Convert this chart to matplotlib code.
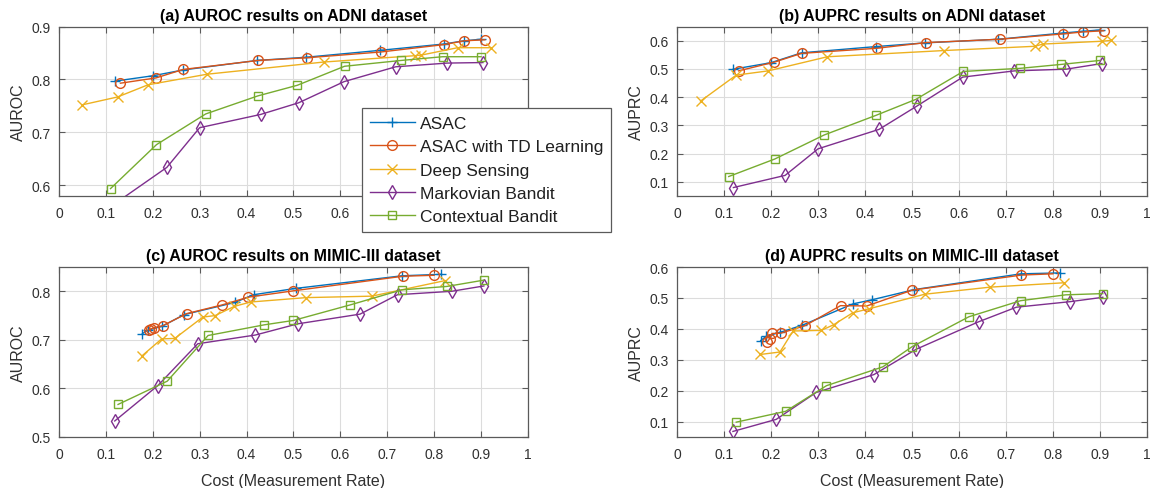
import matplotlib
matplotlib.use('Agg')
import matplotlib.pyplot as plt

plt.rcParams['font.family'] = ['Liberation Sans', 'DejaVu Sans']

methods = ['ASAC', 'ASAC with TD Learning', 'Deep Sensing', 'Markovian Bandit', 'Contextual Bandit']

# ADNI: cost (measurement rate) per method
adni_cost_asac = [0.12, 0.2, 0.265, 0.423, 0.527, 0.684, 0.821, 0.863, 0.9]
adni_cost_td = [0.131, 0.207, 0.265, 0.425, 0.529, 0.687, 0.822, 0.864, 0.908]
adni_cost_ds_roc = [0.049, 0.125, 0.19, 0.316, 0.565, 0.76, 0.772, 0.85, 0.921]
adni_cost_ds_prc = [0.05, 0.126, 0.194, 0.32, 0.568, 0.761, 0.779, 0.905, 0.924]
adni_cost_mb = [0.12, 0.23, 0.3, 0.43, 0.511, 0.608, 0.718, 0.828, 0.904]
adni_cost_cb = [0.11, 0.208, 0.313, 0.424, 0.508, 0.609, 0.73, 0.818, 0.9]

# (a) AUROC on ADNI
adni_auroc_asac = [0.797, 0.807, 0.818, 0.836, 0.842, 0.855, 0.867, 0.873, 0.876]
adni_auroc_td = [0.793, 0.803, 0.819, 0.836, 0.841, 0.852, 0.866, 0.873, 0.875]
adni_auroc_ds = [0.752, 0.767, 0.79, 0.81, 0.833, 0.845, 0.846, 0.86, 0.86]
adni_auroc_mb = [0.566, 0.634, 0.709, 0.734, 0.756, 0.796, 0.824, 0.831, 0.832]
adni_auroc_cb = [0.594, 0.677, 0.735, 0.769, 0.789, 0.825, 0.836, 0.843, 0.843]

# (b) AUPRC on ADNI
adni_auprc_asac = [0.499, 0.522, 0.557, 0.579, 0.592, 0.605, 0.627, 0.633, 0.638]
adni_auprc_td = [0.493, 0.524, 0.555, 0.573, 0.593, 0.605, 0.624, 0.631, 0.635]
adni_auprc_ds = [0.386, 0.478, 0.493, 0.543, 0.565, 0.58, 0.588, 0.598, 0.601]
adni_auprc_mb = [0.08, 0.123, 0.217, 0.286, 0.369, 0.471, 0.493, 0.499, 0.519]
adni_auprc_cb = [0.119, 0.181, 0.266, 0.336, 0.392, 0.491, 0.502, 0.516, 0.53]

# MIMIC-III: cost per method
mimic_cost_asac = [0.178, 0.19, 0.22, 0.267, 0.375, 0.415, 0.505, 0.732, 0.815]
mimic_cost_td = [0.192, 0.197, 0.202, 0.221, 0.272, 0.348, 0.404, 0.5, 0.733, 0.8]
mimic_cost_ds = [0.177, 0.219, 0.247, 0.307, 0.333, 0.374, 0.409, 0.527, 0.667, 0.823]
mimic_cost_mb = [0.119, 0.211, 0.296, 0.419, 0.509, 0.642, 0.722, 0.837, 0.906]
mimic_cost_cb = [0.126, 0.231, 0.318, 0.438, 0.5, 0.621, 0.731, 0.827, 0.906]

# (c) AUROC on MIMIC-III
mimic_auroc_asac = [0.713, 0.72, 0.728, 0.752, 0.777, 0.793, 0.806, 0.832, 0.835]
mimic_auroc_td = [0.721, 0.723, 0.725, 0.729, 0.754, 0.772, 0.788, 0.801, 0.831, 0.833]
mimic_auroc_ds = [0.667, 0.702, 0.703, 0.747, 0.75, 0.769, 0.778, 0.787, 0.79, 0.822]
mimic_auroc_mb = [0.533, 0.606, 0.692, 0.71, 0.733, 0.753, 0.793, 0.8, 0.811]
mimic_auroc_cb = [0.567, 0.615, 0.709, 0.731, 0.74, 0.772, 0.803, 0.81, 0.823]

# (d) AUPRC on MIMIC-III
mimic_auprc_asac = [0.362, 0.376, 0.389, 0.412, 0.481, 0.494, 0.527, 0.578, 0.581]
mimic_auprc_td = [0.357, 0.368, 0.385, 0.386, 0.41, 0.475, 0.474, 0.525, 0.574, 0.578]
mimic_auprc_ds = [0.317, 0.325, 0.393, 0.395, 0.413, 0.452, 0.465, 0.512, 0.535, 0.549]
mimic_auprc_mb = [0.068, 0.107, 0.194, 0.252, 0.334, 0.423, 0.47, 0.488, 0.502]
mimic_auprc_cb = [0.098, 0.133, 0.216, 0.277, 0.342, 0.439, 0.491, 0.51, 0.514]

xtick_vals = [0, 0.1, 0.2, 0.3, 0.4, 0.5, 0.6, 0.7, 0.8, 0.9, 1]
xtick_labels = ['0', '0.1', '0.2', '0.3', '0.4', '0.5', '0.6', '0.7', '0.8', '0.9', '1']

# matlab default colours
colors = ['#0072BD', '#D95319', '#EDB120', '#7E2F8E', '#77AC30']
markers = ['+', 'o', 'x', 'd', 's']
axcol = '#5a5a5a'
txtcol = '#303030'

fig = plt.figure(figsize=(11.51, 4.89), dpi=100)


def panel(rect, xs, ys, title, ylabel, ylim, yticks, xlabel=None, xlabels=xtick_labels):
    ax = fig.add_axes(rect)
    for i in range(5):
        ax.plot(xs[i], ys[i], color=colors[i], marker=markers[i], lw=1.0,
                ms=7 if markers[i] != 's' else 6, mfc='none', mew=1.0,
                label=methods[i])
    ax.set_xlim(0, 1)
    ax.set_ylim(*ylim)
    ax.set_xticks(xtick_vals)
    ax.set_xticklabels(xlabels)
    ax.set_yticks(yticks)
    ax.set_yticklabels(['%g' % t for t in yticks])
    ax.grid(True, color='#dcdcdc', lw=0.8)
    ax.set_axisbelow(True)
    ax.tick_params(direction='in', length=4, width=0.8, top=True, right=True,
                   color=axcol, labelcolor=txtcol, labelsize=10)
    ax.tick_params(axis='x', pad=7)
    ax.tick_params(axis='y', pad=6)
    for s in ax.spines.values():
        s.set_color(axcol)
        s.set_linewidth(0.9)
    ax.set_title(title, fontsize=11.5, fontweight='bold', color='black', pad=5)
    ax.set_ylabel(ylabel, fontsize=11.5, color=txtcol)
    if xlabel:
        ax.set_xlabel(xlabel, fontsize=11.5, color=txtcol, labelpad=9)
    return ax


# labels 0.7 .. 1 of panel (a) sit under the legend in the original
ax_a = panel([0.0512, 0.5971, 0.4075, 0.3466],
             [adni_cost_asac, adni_cost_td, adni_cost_ds_roc, adni_cost_mb, adni_cost_cb],
             [adni_auroc_asac, adni_auroc_td, adni_auroc_ds, adni_auroc_mb, adni_auroc_cb],
             '(a) AUROC results on ADNI dataset', 'AUROC', (0.58, 0.9), [0.6, 0.7, 0.8, 0.9],
             xlabels=xtick_labels[:7] + [''] * 4)
ax_b = panel([0.5882, 0.5971, 0.4083, 0.3466],
             [adni_cost_asac, adni_cost_td, adni_cost_ds_prc, adni_cost_mb, adni_cost_cb],
             [adni_auprc_asac, adni_auprc_td, adni_auprc_ds, adni_auprc_mb, adni_auprc_cb],
             '(b) AUPRC results on ADNI dataset', 'AUPRC', (0.05, 0.65),
             [0.1, 0.2, 0.3, 0.4, 0.5, 0.6])
ax_c = panel([0.0512, 0.1043, 0.4075, 0.3476],
             [mimic_cost_asac, mimic_cost_td, mimic_cost_ds, mimic_cost_mb, mimic_cost_cb],
             [mimic_auroc_asac, mimic_auroc_td, mimic_auroc_ds, mimic_auroc_mb, mimic_auroc_cb],
             '(c) AUROC results on MIMIC-III dataset', 'AUROC', (0.5, 0.85),
             [0.5, 0.6, 0.7, 0.8], 'Cost (Measurement Rate)')
ax_d = panel([0.5882, 0.1043, 0.4083, 0.3476],
             [mimic_cost_asac, mimic_cost_td, mimic_cost_ds, mimic_cost_mb, mimic_cost_cb],
             [mimic_auprc_asac, mimic_auprc_td, mimic_auprc_ds, mimic_auprc_mb, mimic_auprc_cb],
             '(d) AUPRC results on MIMIC-III dataset', 'AUPRC', (0.05, 0.6),
             [0.1, 0.2, 0.3, 0.4, 0.5, 0.6], 'Cost (Measurement Rate)')

handles, labels = ax_a.get_legend_handles_labels()
leg = fig.legend(handles, labels, loc='upper left', bbox_to_anchor=(0.3145, 0.777),
                 fontsize=12.5, frameon=True, fancybox=False, framealpha=1,
                 edgecolor=axcol, handlelength=2.6, handletextpad=0.3,
                 labelspacing=0.47, borderpad=0.45, numpoints=1, borderaxespad=0)
leg.get_frame().set_linewidth(0.9)
for t in leg.get_texts():
    t.set_color('#202020')

plt.savefig('out.png', dpi=100)
